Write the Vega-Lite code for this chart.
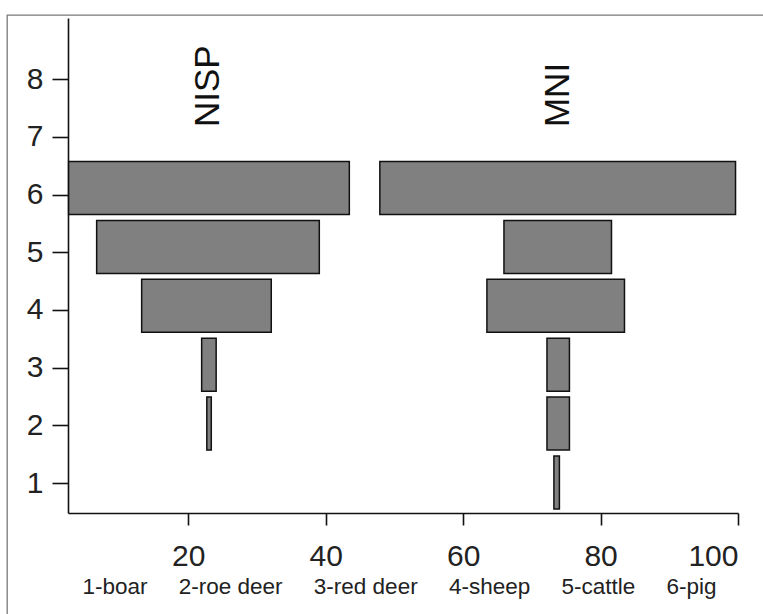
{
  "$schema": "https://vega.github.io/schema/vega-lite/v6.json",
  "autosize": "none",
  "padding": {"left": 7, "top": 15, "right": 0, "bottom": 0},
  "width": 760,
  "height": 605,
  "background": "white",
  "config": {
    "view": {"stroke": "#7a7a7a", "strokeWidth": 1.3},
    "axis": {"grid": false}
  },
  "layer": [
    {
      "data": {
        "values": [
          {"group": "NISP", "species": 6, "lo": 2.59, "hi": 43.44},
          {"group": "NISP", "species": 5, "lo": 6.67, "hi": 39.07},
          {"group": "NISP", "species": 4, "lo": 13.22, "hi": 32.08},
          {"group": "NISP", "species": 3, "lo": 21.95, "hi": 24.06},
          {"group": "NISP", "species": 2, "lo": 22.7, "hi": 23.35},
          {"group": "MNI", "species": 6, "lo": 47.88, "hi": 99.64},
          {"group": "MNI", "species": 5, "lo": 65.94, "hi": 81.59},
          {"group": "MNI", "species": 4, "lo": 63.46, "hi": 83.48},
          {"group": "MNI", "species": 3, "lo": 72.2, "hi": 75.47},
          {"group": "MNI", "species": 2, "lo": 72.2, "hi": 75.47},
          {"group": "MNI", "species": 1, "lo": 73.21, "hi": 74.01}
        ]
      },
      "mark": {"type": "bar", "height": 53, "fill": "#808080", "stroke": "#111111", "strokeWidth": 1.5, "orient": "horizontal"},
      "encoding": {
        "y": {"field": "species", "type": "quantitative", "axis": null,
              "scale": {"domain": [1, 6], "range": [467.5, 173], "nice": false, "zero": false, "padding": 0}},
        "x": {"field": "lo", "type": "quantitative",
              "scale": {"domain": [2.5, 100], "range": [61, 731], "nice": false, "zero": false, "padding": 0},
              "axis": {
                "values": [20, 40, 60, 80, 100],
                "offset": -107,
                "domainColor": "#111111", "domainWidth": 1.6,
                "tickColor": "#111111", "tickWidth": 1.6, "tickSize": 12,
                "labelFont": "Liberation Sans", "labelFontSize": 30, "labelColor": "#222222",
                "labelPadding": 16,
                "title": "1-boar\u00a0\u00a0\u00a0\u00a0 2-roe deer\u00a0\u00a0\u00a0\u00a0 3-red deer\u00a0\u00a0\u00a0\u00a0 4-sheep\u00a0\u00a0\u00a0\u00a0 5-cattle\u00a0\u00a0\u00a0\u00a0 6-pig",
                "titleFont": "Liberation Sans", "titleFontSize": 22.5, "titleFontWeight": "normal",
                "titleColor": "#222222", "titleBaseline": "alphabetic", "titleY": 80, "titleX": 392
              }},
        "x2": {"field": "hi"}
      }
    },
    {
      "data": {
        "values": [
          {"label": "NISP", "pos": 22.87, "level": 7.17},
          {"label": "MNI", "pos": 73.83, "level": 7.17}
        ]
      },
      "mark": {"type": "text", "angle": 270, "align": "left", "baseline": "middle",
               "font": "Liberation Sans", "fontSize": 35, "color": "#111111"},
      "encoding": {
        "x": {"field": "pos", "type": "quantitative"},
        "y": {"field": "level", "type": "quantitative",
              "scale": {"domain": [0.48, 9.06], "range": [498, 3], "nice": false, "zero": false, "padding": 0},
              "axis": {
                "values": [1, 2, 3, 4, 5, 6, 7, 8],
                "offset": -61,
                "domainColor": "#111111", "domainWidth": 1.6,
                "tickColor": "#111111", "tickWidth": 1.6, "tickSize": 16,
                "labelFont": "Liberation Sans", "labelFontSize": 30, "labelColor": "#222222",
                "labelPadding": 9,
                "title": null
              }},
        "text": {"field": "label"}
      }
    }
  ],
  "resolve": {"scale": {"y": "independent"}, "axis": {"y": "independent"}}
}
